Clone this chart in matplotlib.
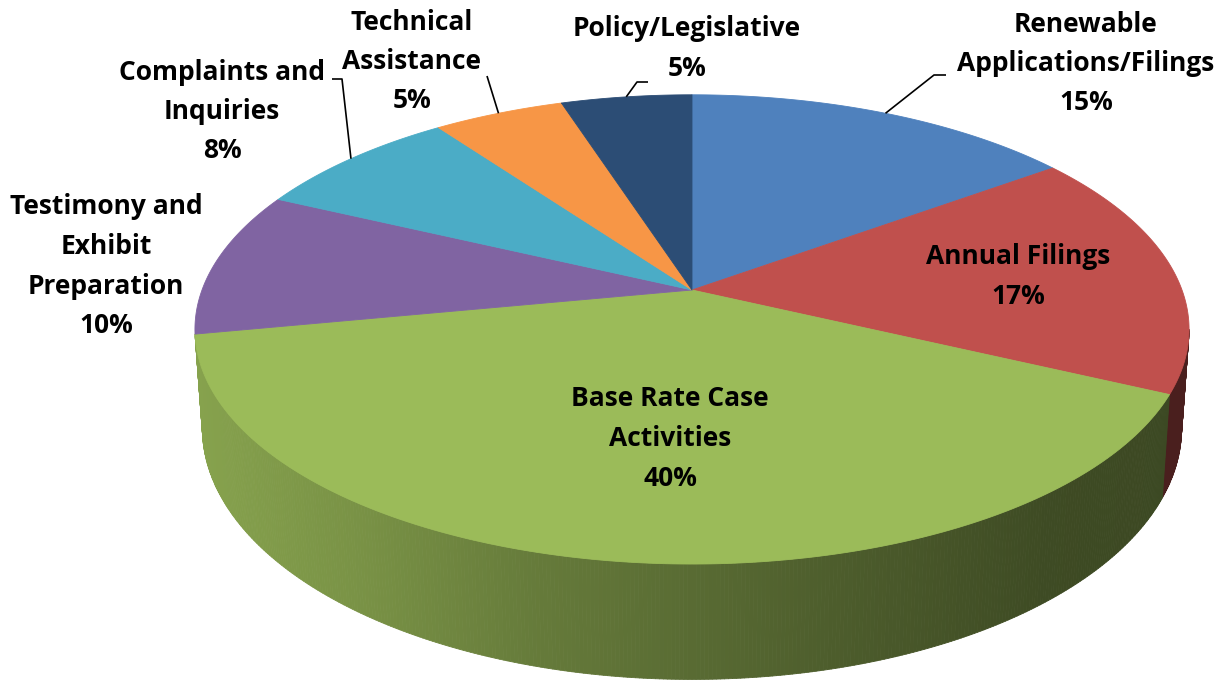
import numpy as np
import matplotlib
matplotlib.use("Agg")
import matplotlib.pyplot as plt
from matplotlib.collections import PolyCollection
from matplotlib.colors import to_rgb

# ---- data -------------------------------------------------------------
categories = [
    "Renewable\nApplications/Filings",
    "Annual Filings",
    "Base Rate Case\nActivities",
    "Testimony and\nExhibit\nPreparation",
    "Complaints and\nInquiries",
    "Technical\nAssistance",
    "Policy/Legislative",
]
shares = [15, 17, 40, 10, 8, 5, 5]
colors = ["#4F81BD", "#C0504D", "#9BBB59", "#8064A2", "#4BACC6", "#F79646", "#2C4D75"]

# ---- canvas (pixel coordinates, y downwards) -------------------------
W, H = 1228, 680
fig = plt.figure(figsize=(W / 100, H / 100), dpi=100)
ax = fig.add_axes([0, 0, 1, 1])
ax.set_xlim(0, W)
ax.set_ylim(H, 0)
ax.axis("off")

# ---- tilted disc projection -------------------------------------------
CX, CY = 692, 290          # centre of top face
RX, RY = 490, 228          # projected radii
PERSP = 0.168              # perspective strength (far side shrinks)
DEPTH = 96                 # thickness of the disc
BASE_SHRINK = 0.985        # base ellipse a touch narrower than the top


def top_pt(theta):
    """theta in degrees, clockwise from 12 o'clock."""
    t = np.radians(theta)
    w = 1 + PERSP * np.cos(t)
    return CX + RX * np.sin(t) / w, CY - RY * np.cos(t) / w


def bottom_pt(theta):
    x, y = top_pt(theta)
    t = np.radians(theta)
    w = 1 + PERSP * np.cos(t)
    return CX + (x - CX) * BASE_SHRINK, y + DEPTH / w


# side lighting: bright on the left, dark on the right
SHADE_X = [150, 360, 530, 830, 1050, 1250]
SHADE_F = [0.89, 0.78, 0.66, 0.50, 0.40, 0.38]


def shade(rgb, x):
    f = np.interp(x, SHADE_X, SHADE_F)
    return tuple(np.clip(np.array(rgb) * f, 0, 1))


total = float(sum(shares))
edges = np.concatenate([[0.0], np.cumsum(shares) / total * 360.0])
vis_lo = np.degrees(np.arccos(-PERSP))
vis_hi = 360.0 - vis_lo

# side walls (walls narrower than 1.5 degrees are hidden by the rim)
side_polys, side_cols = [], []
for i, c in enumerate(colors):
    lo, hi = max(edges[i], vis_lo), min(edges[i + 1], vis_hi)
    if hi - lo < 1.5:
        continue
    base = to_rgb(c)
    angs = np.linspace(lo, hi, max(2, int((hi - lo) / 0.4) + 1))
    for a, b in zip(angs[:-1], angs[1:]):
        p0, p1 = top_pt(a), top_pt(b)
        q1, q0 = bottom_pt(b), bottom_pt(a)
        side_polys.append([p0, p1, q1, q0])
        side_cols.append(shade(base, 0.5 * (p0[0] + p1[0])))
ax.add_collection(PolyCollection(side_polys, facecolors=side_cols,
                                 edgecolors=side_cols, linewidths=0.6))

# top faces
top_polys, top_cols = [], []
for i, c in enumerate(colors):
    angs = np.linspace(edges[i], edges[i + 1], 200)
    pts = [(CX, CY)] + [top_pt(a) for a in angs]
    top_polys.append(pts)
    top_cols.append(c)
ax.add_collection(PolyCollection(top_polys, facecolors=top_cols,
                                 edgecolors=top_cols, linewidths=0.6))

# ---- labels -------------------------------------------------------------
LABEL_POS = [
    (1086, 24),
    (1018, 257),
    (670, 399),
    (106, 207),
    (222, 72),
    (412, 22),
    (687, 29),
]
LINE_GAP = 39.5
# leader lines start near the label and end on the rim at the slice middle
LEADER_START = {
    0: [(946, 75), (934, 75)],
    4: [(332, 79), (342, 79)],
    5: [(487, 76)],
    6: [(648, 82), (637, 82)],
}

font = dict(family=["Open Sans", "DejaVu Sans"], weight="bold", fontsize=19,
            color="black", ha="center", va="center")
for i, (name, val) in enumerate(zip(categories, shares)):
    lines = name.split("\n") + [f"{val}%"]
    x, y0 = LABEL_POS[i]
    for j, line in enumerate(lines):
        ax.text(x, y0 + j * LINE_GAP, line, **font)

for i, start in LEADER_START.items():
    mid = top_pt(0.5 * (edges[i] + edges[i + 1]))
    pts = np.array(start + [mid])
    ax.plot(pts[:, 0], pts[:, 1], color="black", lw=1.2, solid_capstyle="butt")

fig.savefig("out.png", dpi=100, facecolor="white")
